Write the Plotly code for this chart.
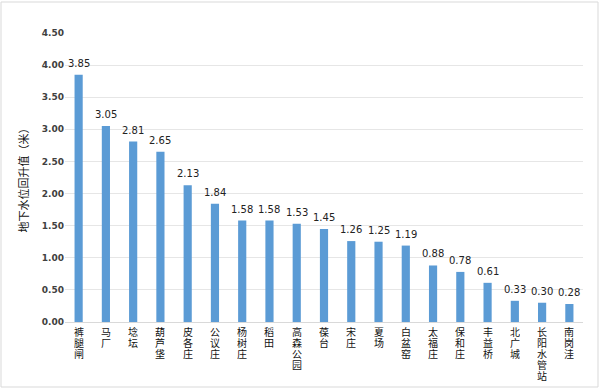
import plotly.graph_objects as go

stations = ["裤腿闸", "马厂", "埝坛", "葫芦垡", "皮各庄", "公议庄", "杨树庄", "稻田", "高森公园",
            "葆台", "宋庄", "夏场", "白盆窑", "太福庄", "保和庄", "丰益桥", "北广城", "长阳水管站", "南岗洼"]
values = [3.85, 3.05, 2.81, 2.65, 2.13, 1.84, 1.58, 1.58, 1.53, 1.45, 1.26, 1.25, 1.19, 0.88, 0.78, 0.61, 0.33, 0.30, 0.28]
y_ticks = [0, 0.5, 1.0, 1.5, 2.0, 2.5, 3.0, 3.5, 4.0, 4.5]

font_cn = "Noto Sans CJK SC"

fig = go.Figure(go.Bar(
    x=list(range(len(stations))),
    y=values,
    marker=dict(color="#5B9BD5", line=dict(width=0)),
    hoverinfo="skip",
))

fig.update_layout(
    width=600, height=389,
    margin=dict(l=65, r=17, t=33, b=67),
    paper_bgcolor="white", plot_bgcolor="white",
    bargap=0.7,
    showlegend=False,
    font=dict(family=font_cn, color="#222222"),
)
fig.update_xaxes(
    tickmode="array",
    tickvals=list(range(len(stations))),
    ticktext=["" for _ in stations],
    showline=True, linecolor="#d9d9d9", linewidth=1,
    showgrid=False, ticks="",
    range=[-0.5, len(stations) - 0.5],
)
fig.update_yaxes(
    range=[0, 4.5],
    tickmode="array",
    tickvals=y_ticks,
    ticktext=[f"<b>{t:.2f}</b>" for t in y_ticks],
    tickfont=dict(size=9, family="DejaVu Sans", color="#404040"),
    showgrid=True, gridcolor="#e6e6e6", gridwidth=1,
    zeroline=False,
    ticks="", ticklen=0,
    title=dict(text="地下水位回升值（米）", font=dict(size=11, family=font_cn, color="#111111"), standoff=10),
)

# value labels above bars
for i, v in enumerate(values):
    fig.add_annotation(x=i, xref="x", y=v, yref="y", yanchor="bottom",
                       text=f"{v:.2f}", showarrow=False, yshift=4,
                       font=dict(size=10, family="DejaVu Sans", color="#222222"))

# vertical (stacked) category labels
for i, name in enumerate(stations):
    for j, ch in enumerate(name):
        fig.add_annotation(x=i, xref="x", y=0, yref="paper", yanchor="top",
                           text=ch, showarrow=False, yshift=-3 - 11 * j,
                           height=11, borderpad=0,
                           font=dict(size=10, family=font_cn, color="#111111"))

fig.add_shape(type="rect", xref="paper", yref="paper",
              x0=-64 / 518, x1=533 / 518, y0=-65 / 289, y1=320 / 289,
              line=dict(color="#d9d9d9", width=1))

fig.write_html("out.html", config={"displayModeBar": False},
               post_script="document.body.style.margin='0';")
